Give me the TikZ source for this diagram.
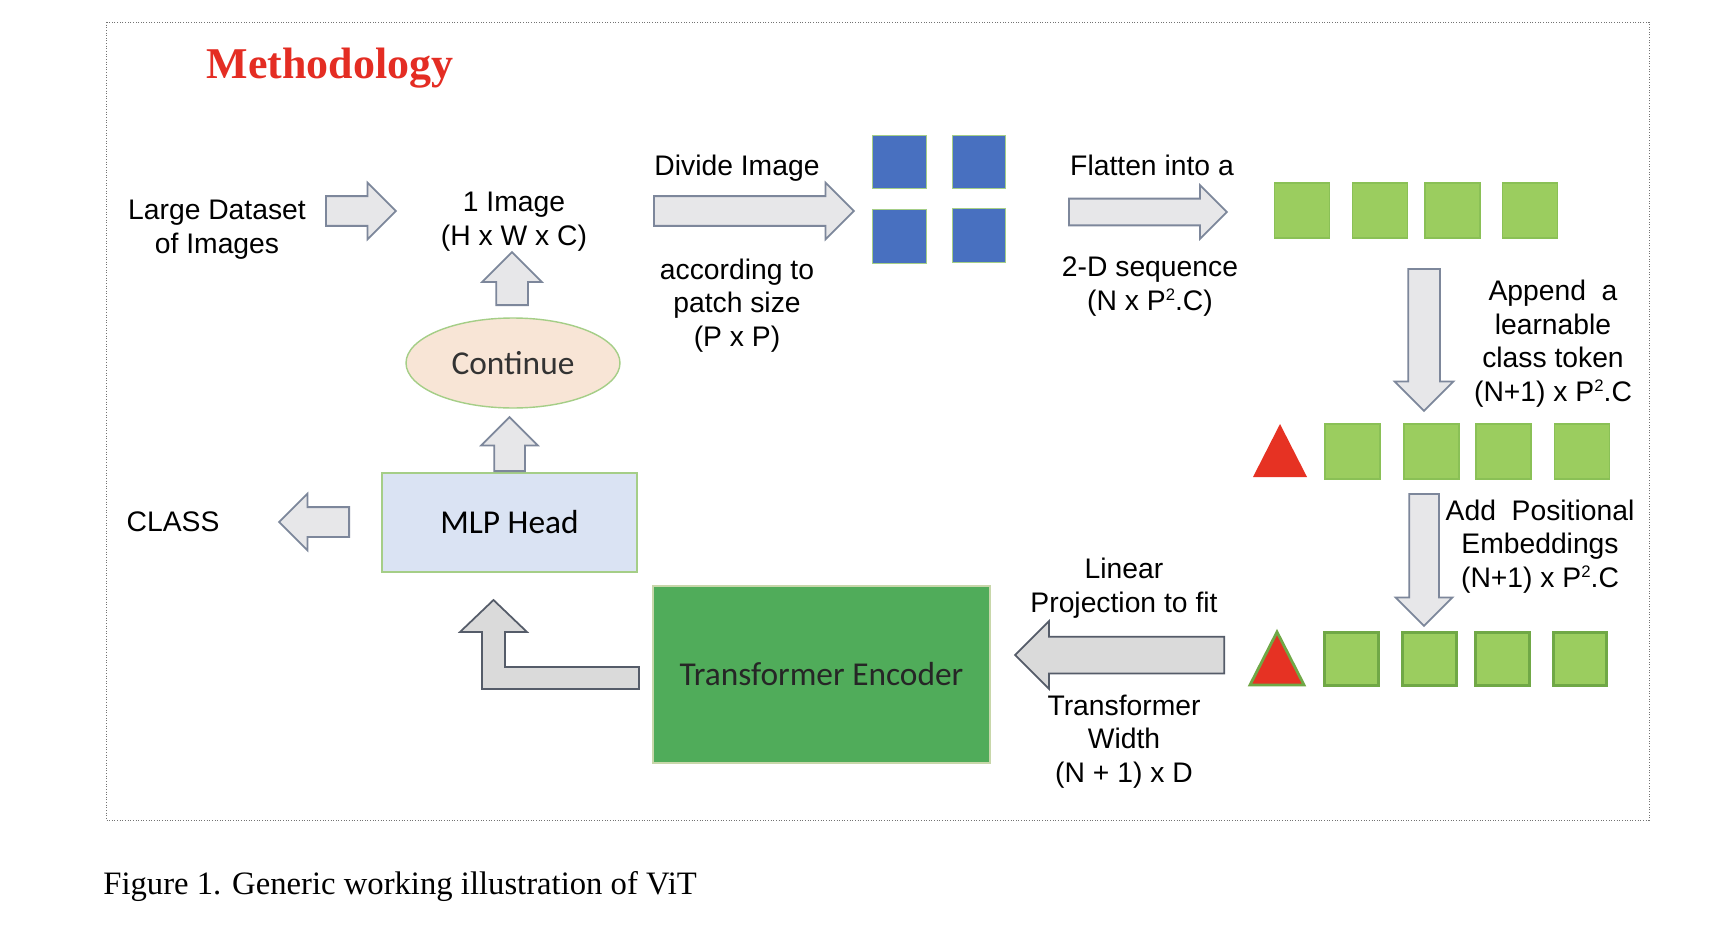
\documentclass[tikz,border=0pt]{standalone}
\usepackage{fontspec}
\setmainfont{Liberation Sans}
\newfontfamily\calibrifont{Carlito}
\newfontfamily\timesfont{Liberation Serif}
\usetikzlibrary{shapes.geometric,shapes.arrows}

\definecolor{arrowfill}{RGB}{231,231,233}
\definecolor{arrowline}{RGB}{125,135,155}
\definecolor{darkfill}{RGB}{218,218,218}
\definecolor{darkline}{RGB}{85,92,105}
\definecolor{patchgreen}{RGB}{155,205,95}
\definecolor{patchedge}{RGB}{138,192,86}
\definecolor{tokenedge}{RGB}{112,168,70}
\definecolor{tokenred}{RGB}{230,50,35}
\definecolor{patchblue}{RGB}{72,112,192}
\definecolor{boxedge}{RGB}{165,206,135}
\definecolor{mlpblue}{RGB}{218,227,243}
\definecolor{peach}{RGB}{248,229,214}
\definecolor{encgreen}{RGB}{80,172,90}
\definecolor{encedge}{RGB}{200,215,170}
\definecolor{titlered}{RGB}{228,45,35}

\newcommand{\sqtwo}{\raisebox{0.62ex}{\fontsize{9.5}{10}\selectfont 2}}

\begin{document}
\begin{tikzpicture}[x=0.02cm, y=-0.02cm]
	\tikzstyle{txt}=[font=\fontsize{16.1}{19}\selectfont, align=center, anchor=base, inner sep=0pt]
	\tikzstyle{box}=[rectangle, draw=boxedge, line width=0.8pt, font=\calibrifont\fontsize{19}{23}\selectfont]
	\tikzstyle{blockarrow}=[single arrow, draw=arrowline, fill=arrowfill, line width=1pt, anchor=tail, inner sep=0.28cm, minimum width=1.1cm, single arrow head extend=0.27cm]
	\tikzstyle{bigarrow}=[blockarrow, draw=darkline, fill=darkfill]
	\tikzstyle{patch}=[rectangle, draw=patchedge, fill=patchgreen, line width=0.6pt, minimum size=1.1cm, inner sep=0pt]
	\tikzstyle{token}=[patch, draw=tokenedge, line width=1.6pt, minimum size=1.07cm]

	\fill[white] (0,0) rectangle (1718,926);
	\useasboundingbox (0,0) rectangle (1718,926);
	\draw[black!55, densely dotted, line width=0.5pt] (106,22) rectangle (1649,820);

	\node[font=\timesfont\bfseries\fontsize{25}{30}\selectfont, text=titlered, anchor=base] (title) at (330,79) {Methodology};

	% top row (multi-line labels sit on their last line)
	\node[txt] (data) at (217,253) {Large Dataset\\of Images};
	\node[txt] (img) at (514,245) {1 Image\\(H x W x C)};
	\node[txt] (divide) at (737,175) {Divide Image};
	\node[txt] (patchsize) at (737,346) {according to\\patch size\\(P x P)};
	\node[txt] (flatten) at (1152,175) {Flatten into a};
	\node[txt] (seq) at (1150,310) {2-D sequence\\(N x P\sqtwo.C)};

	\foreach \x/\y [count=\i] in {899.5/162, 979/162, 899.5/236.5, 979/235.5}
		\node[patch, fill=patchblue, draw=boxedge, minimum size=1.07cm] (b\i) at (\x,\y) {};
	\foreach \x [count=\i] in {1302,1380,1452.5,1530}
		\node[patch] (s\i) at (\x,210.5) {};

	% right column
	\node[txt] (append) at (1553,401) {Append~ a\\learnable\\class token\\(N+1) x P\sqtwo.C};
	\fill[tokenred] (1253,477) -- (1280,424) -- (1307,477) -- cycle;
	\foreach \x [count=\i] in {1352.5,1431.5,1503.5,1582}
		\node[patch] (c\i) at (\x,451.5) {};
	\node[txt] (posit) at (1540,587) {Add~ Positional\\Embeddings\\(N+1) x P\sqtwo.C};
	\draw[tokenedge, fill=tokenred, line width=1.6pt] (1250,685) -- (1277,632) -- (1304,685) -- cycle;
	\foreach \x [count=\i] in {1351.5,1429.5,1502.5,1580}
		\node[token] (e\i) at (\x,659) {};

	% bottom row
	\node[txt] (linear) at (1124,612) {Linear\\Projection to fit};
	\node[txt] (width) at (1124,782) {Transformer\\Width\\(N + 1) x D};
	\node[box, draw=encedge, fill=encgreen, minimum width=6.74cm, minimum height=3.54cm, text=black!85] (enc) at (821.5,674.5) {Transformer Encoder};
	\node[box, fill=mlpblue, minimum width=5.1cm, minimum height=1.98cm] (mlp) at (509.5,522.5) {MLP Head};
	\node[box, ellipse, fill=peach, minimum width=4.28cm, minimum height=1.8cm, inner sep=0pt, text=black!80] (cont) at (513,363) {Continue};
	\node[txt] (class) at (173,531) {CLASS};

	% block arrows
	\node[blockarrow, minimum height=1.4cm] (a1) at (325,211) {};
	\node[blockarrow, minimum height=4cm] (a2) at (653,211) {};
	\node[blockarrow, minimum height=3.16cm, inner sep=0.25cm, minimum width=1.04cm] (a3) at (1068,212) {};
	\node[blockarrow, shape border rotate=270, minimum height=2.84cm, inner sep=0.3cm, minimum width=1.14cm] (d1) at (1424,268) {};
	\node[blockarrow, shape border rotate=270, minimum height=2.64cm] (d2) at (1424,493) {};
	\node[bigarrow, shape border rotate=180, minimum height=4.18cm, inner sep=0.35cm, minimum width=1.32cm, single arrow head extend=0.31cm] (proj) at (1225,655) {};
	\node[blockarrow, shape border rotate=90, minimum height=1.06cm, inner sep=0.3cm, minimum width=1.16cm, single arrow head extend=0.28cm] (up1) at (512,306) {};
	\node[blockarrow, shape border rotate=90, minimum height=1.08cm, inner sep=0.29cm, minimum width=1.1cm, single arrow head extend=0.26cm] (up2) at (509.5,472) {};
	\node[blockarrow, shape border rotate=180, minimum height=1.4cm] (back) at (350,522) {};
	% encoder to head
	\draw[darkline, fill=darkfill, line width=1pt] (639,667) -- (505,667) -- (505,632) -- (527,632) -- (493.5,600) -- (460,632) -- (482,632) -- (482,689) -- (639,689) -- cycle;

	\node[font=\timesfont\fontsize{18.6}{23}\selectfont, anchor=base west, inner sep=0pt] (caption) at (103,894) {Figure 1. Generic working illustration of ViT};
\end{tikzpicture}
\end{document}
